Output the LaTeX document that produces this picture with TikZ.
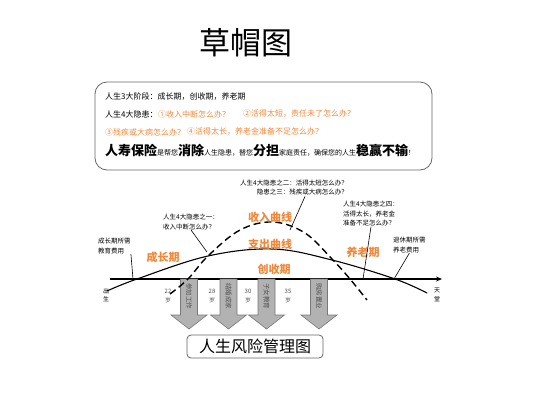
\documentclass[tikz,border=0pt]{standalone}
\usepackage{fontspec}
\setmainfont{Noto Sans CJK SC}
\usepackage{xcolor}
\usepackage{tikz}
\usetikzlibrary{calc,arrows.meta}
\definecolor{orng}{HTML}{F0883A}
\definecolor{frame}{HTML}{666666}
\definecolor{arrfill}{HTML}{B2B2B2}
\definecolor{arrdraw}{HTML}{787878}
\definecolor{muted}{HTML}{505050}
\tikzset{
  base/.style={draw=black, line width=1.1pt, line cap=round, line join=round},
  income/.style={draw=black, line width=1.4pt, dash pattern=on 7pt off 4pt},
  axisln/.style={draw=black, line width=1.4pt, -{Stealth[length=6pt,width=5pt]}},
  ptr/.style={draw=black, line width=0.6pt},
  note/.style={inner sep=0pt, font=\fontsize{6.5}{9.5}\selectfont},
  boxtxt/.style={inner sep=0pt, anchor=west, font=\fontsize{8}{9}\selectfont},
  stage/.style={text=orng, inner sep=0pt, font=\fontsize{11}{12}\selectfont\bfseries},
  age/.style={inner sep=0pt, align=center, text=muted, font=\fontsize{6}{8.5}\selectfont},
  bigarr/.style={fill=arrfill, draw=arrdraw, line width=0.6pt, line join=miter},
  arrtxt/.style={inner sep=0pt, text=muted, font=\fontsize{6.5}{7}\selectfont},
}
\newcommand{\bigc}[1]{{\fontsize{13}{14}\selectfont\bfseries #1}}
\newcommand{\smlc}[1]{{\fontsize{7}{8}\selectfont #1}}

\begin{document}
\begin{tikzpicture}[x=1pt, y=-1pt]
  \useasboundingbox (0,0) rectangle (533,400);
  % title and info box
  \node[inner sep=0pt, font=\fontsize{31}{32}\selectfont] (title) at (246,43) {草帽图};
  \node[draw=frame, line width=0.8pt, rounded corners=12pt, minimum width=337pt,
        minimum height=88pt] (infobox) at (263.5,126) {};
  \node[boxtxt] (l1) at (105,97) {人生3大阶段：成长期，创收期，养老期};
  \node[boxtxt] (l2) at (105,114) {人生4大隐患：};
  \node[boxtxt, text=orng] (l2a) at (158,114) {①收入中断怎么办？};
  \node[boxtxt, text=orng] (l2b) at (243,114) {②活得太短，责任未了怎么办？};
  \node[boxtxt, text=orng] (l3a) at (105,132) {③残疾或大病怎么办？};
  \node[boxtxt, text=orng] (l3b) at (187,132) {④活得太长，养老金准备不足怎么办？};
  \node[boxtxt] (l4) at (105,150) {\bigc{人寿保险}\smlc{是帮您}\bigc{消除}\smlc{人生隐患，替您}\bigc{分担}\smlc{家庭责任，确保您的人生}\bigc{稳赢不输}\smlc{！}};

  % axis
  \coordinate (axL) at (110,279);
  \coordinate (axR) at (442,279);
  \draw[axisln] (axL) -- (axR);
  \node[age, text=black] (born) at (106,295) {出\\生};
  \node[age, text=black] (heaven) at (437,295) {天\\堂};

  % arrows
  \foreach \x/\t in {189/参加工作, 228.5/结婚成家, 266.5/子女教育, 319/购房置业} {
    \draw[bigarr] (\x-8.5,279) -- (\x+8.5,279) -- (\x+8.5,315) -- (\x+18,315)
      -- (\x,329) -- (\x-18,315) -- (\x-8.5,315) -- cycle;
    \node[arrtxt, rotate=-90] (a\x) at (\x,296) {\t};
  }
  \node[age] (g22) at (168,296) {22\\岁};
  \node[age] (g28) at (212,296) {28\\岁};
  \node[age] (g30) at (248,296) {30\\岁};
  \node[age] (g35) at (288,296) {35\\岁};

  % curves
  \draw[base] plot[smooth, tension=0.6] coordinates {(107,291) (137,279) (208,256)
    (273,249) (332,260) (395,279) (427,293)};
  \draw[income] plot[smooth, tension=0.6] coordinates {(170,294) (188,279) (208,256)
    (240,230) (273,222) (305,233) (332,259) (350,279) (367,300)};

  \coordinate (x1) at (207,252);
  \coordinate (x2) at (290,230);
  \coordinate (x4) at (363,279);
  \coordinate (e1) at (133,279);
  \coordinate (e2) at (394,279);

  \node[stage] (inc) at (270,217) {收入曲线};
  \node[stage] (exp) at (270,244) {支出曲线};
  \node[stage] (earn) at (274,269) {创收期};
  \node[stage] (grow) at (163,257) {成长期};
  \node[stage] (old) at (363,252) {养老期};

  % notes
  \node[note, anchor=west, align=left] (n1) at (163,222) {人生4大隐患之一：\\收入中断怎么办？};
  \node[note, anchor=east, align=right] (n2) at (348,187.5) {人生4大隐患之二：活得太短怎么办？\\隐患之三：残疾或大病怎么办？};
  \node[note, anchor=west, align=left] (n4) at (343,214) {人生4大隐患之四：\\活得太长，养老金\\准备不足怎么办？};
  \node[note, anchor=west, align=left] (n5) at (98,246) {成长期所需\\教育费用};
  \node[note, anchor=west, align=left] (n6) at (393,245) {退休期所需\\养老费用};
  \draw[ptr] (n1.south) -- (x1);
  \draw[ptr] ($(n2.south east)+(-43,1)$) -- (x2);
  \draw[ptr] (n4.south) -- (x4);
  \draw[ptr] (n5.south east) -- (e1);
  \draw[ptr] (n6.south) -- (e2);

  % bottom label
  \node[draw=frame, line width=0.8pt, rounded corners=4pt, minimum width=136pt,
        minimum height=23pt, font=\fontsize{16}{17}\selectfont] (chart) at (255,346.5) {人生风险管理图};
\end{tikzpicture}
\end{document}
